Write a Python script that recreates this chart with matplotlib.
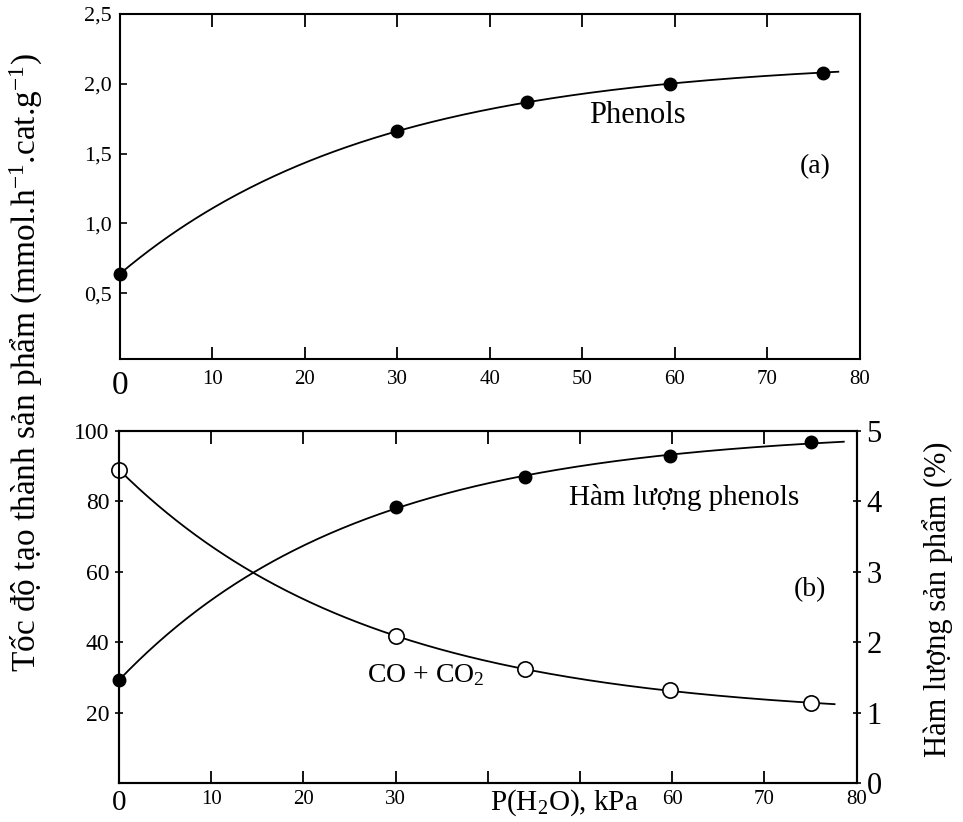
import numpy as np
import matplotlib.pyplot as plt

plt.rcParams['font.family'] = ['Liberation Serif', 'DejaVu Serif']
plt.rcParams['mathtext.fontset'] = 'custom'
plt.rcParams['mathtext.rm'] = 'Liberation Serif'
plt.rcParams['mathtext.it'] = 'Liberation Serif:italic'

# (a) phenol formation rate vs water vapour pressure
p_top = [0, 30, 44, 59.5, 76]
phenols_rate = [0.64, 1.66, 1.87, 2.00, 2.08]

# (b) phenol content (%) and CO + CO2
p_bot = [0, 30, 44, 59.7, 75]
phenols_pct = [1.46, 3.92, 4.34, 4.65, 4.84]
co_co2 = [89.0, 41.8, 32.3, 26.4, 22.7]

x_ticks = [0, 10, 20, 30, 40, 50, 60, 70, 80]
x_labels = ['0', '10', '20', '30', '40', '50', '60', '70', '80']
x_labels_b = ['0', '10', '20', '30', '', '', '60', '70', '80']
ya_ticks = [0.5, 1.0, 1.5, 2.0, 2.5]
ya_labels = ['0,5', '1,0', '1,5', '2,0', '2,5']
yb_ticks = [20, 40, 60, 80, 100]
yr_ticks = [0, 1, 2, 3, 4, 5]

fig = plt.figure(figsize=(9.63, 8.22), dpi=100)
ax1 = fig.add_axes([0.1246, 0.5633, 0.768, 0.4197])
ax2 = fig.add_axes([0.1236, 0.0474, 0.766, 0.4283])
ax3 = ax2.twinx()


def fit_curve(x, y, xmax):
    # smooth trend line y = a + b*exp(-x/c), c by grid search
    x = np.asarray(x, float)
    y = np.asarray(y, float)
    best = None
    for c in np.linspace(5, 80, 301):
        A = np.column_stack([np.ones_like(x), np.exp(-x / c)])
        coef, *_ = np.linalg.lstsq(A, y, rcond=None)
        err = np.sum((A @ coef - y) ** 2)
        if best is None or err < best[0]:
            best = (err, c, coef)
    _, c, coef = best
    xs = np.linspace(0, xmax, 300)
    return xs, coef[0] + coef[1] * np.exp(-xs / c)


lw = 1.3
# top panel
xs, ys = fit_curve(p_top, phenols_rate, 77.7)
ax1.plot(xs, ys, color='black', lw=lw)
ax1.plot(p_top, phenols_rate, 'o', color='black', ms=9, clip_on=False)
ax1.set_xlim(0, 80)
ax1.set_ylim(0.03, 2.5)
ax1.set_xticks(x_ticks)
ax1.set_xticklabels(x_labels, fontsize=15)
ax1.set_yticks(ya_ticks)
ax1.set_yticklabels(ya_labels, fontsize=16)
ax1.tick_params(axis='x', direction='in', length=9, width=1.3, top=True, pad=8)
ax1.tick_params(axis='y', direction='in', length=5, width=1.2, pad=6)
ax1.get_xticklabels()[0].set_fontsize(24)
ax1.text(56, 1.77, 'Phenols', fontsize=22, ha='center', va='center')
ax1.text(75.2, 1.41, '(a)', fontsize=20, ha='center', va='center')

# bottom panel
xs, ys = fit_curve(p_bot, co_co2, 77.6)
ax2.plot(xs, ys, color='black', lw=lw)
ax2.plot(p_bot, co_co2, 'o', mfc='white', mec='black', mew=1.2, ms=11, clip_on=False, zorder=3)
xs, ys = fit_curve(p_bot, phenols_pct, 78.6)
ax3.plot(xs, ys, color='black', lw=lw)
ax3.plot(p_bot, phenols_pct, 'o', color='black', ms=9, clip_on=False)
ax2.set_xlim(0, 80)
ax2.set_ylim(0, 100)
ax3.set_ylim(0, 5)
ax2.set_xticks(x_ticks)
ax2.set_xticklabels(x_labels_b, fontsize=15)
ax2.get_xticklabels()[0].set_fontsize(21)
ax2.set_yticks(yb_ticks)
ax2.set_yticklabels([str(v) for v in yb_ticks], fontsize=17)
ax3.set_yticks(yr_ticks)
ax3.set_yticklabels([str(v) for v in yr_ticks], fontsize=22)
ax2.tick_params(axis='x', direction='in', length=9, width=1.3, top=True, pad=5)
ax2.tick_params(axis='y', direction='inout', length=6, width=1.2, pad=4)
ax3.tick_params(axis='y', direction='inout', length=6, width=1.2, pad=4)
ax3.text(61.3, 4.05, 'Hàm lượng phenols', fontsize=21, ha='center', va='center')
ax3.text(74.9, 2.74, '(b)', fontsize=20, ha='center', va='center')
ax2.text(26.9, 30.6, 'CO + CO$_2$', fontsize=20, ha='left', va='center')
ax2.text(48.3, -5.6, 'P(H$_2$O), kPa', fontsize=21, ha='center', va='center')

for ax in (ax1, ax2, ax3):
    for s in ax.spines.values():
        s.set_linewidth(1.5)

fig.text(0.027, 0.559, 'Tốc độ tạo thành sản phẩm (mmol.h$^{-1}$.cat.g$^{-1}$)',
         rotation=90, fontsize=24, ha='center', va='center')
fig.text(0.974, 0.271, 'Hàm lượng sản phẩm (%)', rotation=90, fontsize=22,
         ha='center', va='center')

fig.savefig('out.png', dpi=100)
